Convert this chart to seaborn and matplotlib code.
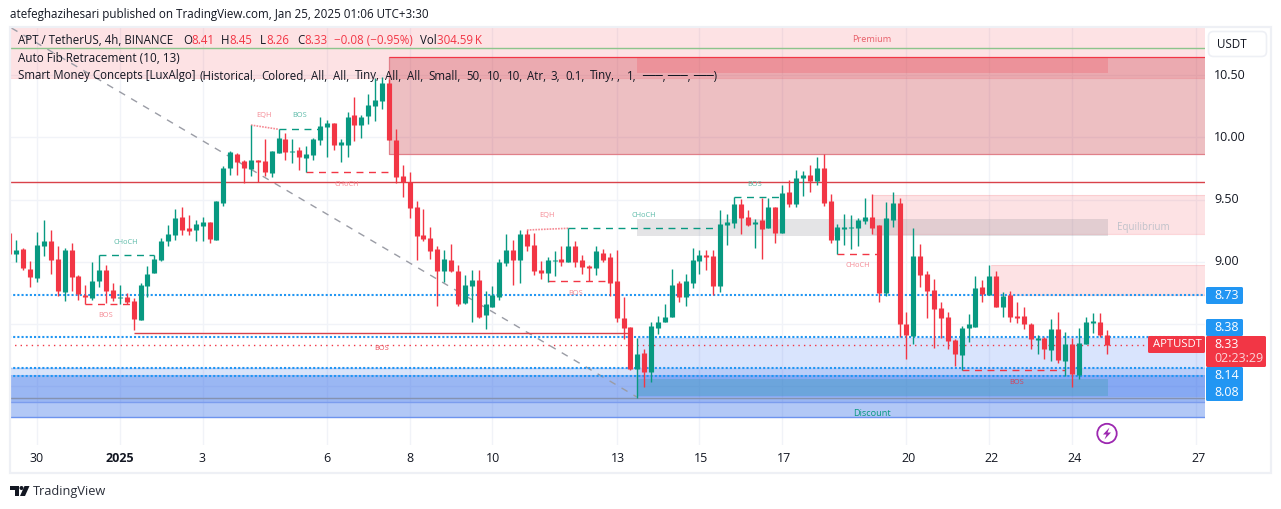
import numpy as np
import pandas as pd
import matplotlib
matplotlib.use("Agg")
import matplotlib.pyplot as plt
from matplotlib.patches import Rectangle, Circle, Polygon, FancyBboxPatch
from matplotlib.transforms import Affine2D
import seaborn as sns

# candles, 4h bars
opens = [9.235, 9.063, 9.103, 8.942, 8.870, 9.127, 9.168, 9.023, 8.757, 9.095,
         8.886, 8.733, 8.709, 8.846, 8.934, 8.774, 8.709, 8.717, 8.685, 8.532,
         8.806, 8.910, 9.015, 9.168, 9.216, 9.360, 9.272, 9.256, 9.288, 9.320,
         9.176, 9.473, 9.754, 9.867, 9.811, 9.746, 9.819, 9.811, 9.714, 9.875,
         9.987, 9.883, 9.899, 9.835, 9.859, 9.979, 10.084, 10.116, 9.939, 9.939,
         10.180, 10.100, 10.172, 10.253, 10.293, 10.438, 9.979, 9.690, 9.642, 9.441,
         9.216, 9.192, 9.103, 8.926, 9.015, 8.926, 8.669, 8.806, 8.854, 8.573,
         8.637, 8.717, 8.991, 9.095, 9.015, 9.224, 9.135, 8.934, 8.910, 9.007,
         9.023, 8.999, 9.127, 9.015, 8.967, 8.951, 9.071, 9.039, 8.846, 8.549,
         8.476, 8.139, 8.267, 8.115, 8.468, 8.516, 8.557, 8.830, 8.717, 8.830,
         9.007, 9.055, 9.047, 8.806, 9.296, 9.312, 9.465, 9.361, 9.304, 9.337,
         9.272, 9.441, 9.232, 9.562, 9.465, 9.674, 9.698, 9.650, 9.755, 9.490,
         9.176, 9.264, 9.272, 9.272, 9.329, 9.361, 9.297, 8.750, 9.337, 9.473,
         8.501, 8.404, 9.047, 8.903, 8.774, 8.629, 8.557, 8.372, 8.251, 8.468,
         8.477, 8.798, 8.734, 8.887, 8.637, 8.734, 8.565, 8.565, 8.501, 8.372,
         8.388, 8.292, 8.460, 8.203, 8.340, 8.091, 8.340, 8.509, 8.517, 8.41]
highs = [9.270, 9.176, 9.111, 9.007, 9.240, 9.336, 9.256, 9.127, 9.111, 9.151,
         8.894, 8.814, 8.999, 9.055, 8.975, 8.830, 8.814, 8.749, 8.709, 8.830,
         8.967, 9.055, 9.192, 9.296, 9.425, 9.441, 9.377, 9.336, 9.360, 9.320,
         9.489, 9.770, 9.891, 9.875, 9.819, 10.100, 9.819, 9.987, 9.891, 10.068,
         10.036, 9.987, 9.923, 9.931, 9.995, 10.164, 10.140, 10.116, 9.987, 10.204,
         10.325, 10.180, 10.349, 10.478, 10.486, 10.470, 10.068, 9.778, 9.722, 9.489,
         9.425, 9.280, 9.127, 9.095, 9.143, 8.975, 8.894, 8.934, 8.934, 8.766,
         8.806, 9.023, 9.224, 9.176, 9.256, 9.256, 9.232, 9.007, 9.039, 9.087,
         9.127, 9.272, 9.168, 9.055, 8.975, 9.127, 9.103, 9.071, 9.095, 8.718,
         8.476, 8.385, 8.299, 8.516, 8.565, 8.661, 8.942, 8.846, 8.902, 9.111,
         9.095, 9.095, 9.095, 9.417, 9.385, 9.521, 9.505, 9.417, 9.345, 9.513,
         9.513, 9.441, 9.618, 9.658, 9.738, 9.730, 9.779, 9.843, 9.867, 9.546,
         9.305, 9.385, 9.377, 9.353, 9.514, 9.546, 9.297, 9.482, 9.562, 9.514,
         8.597, 9.272, 9.144, 8.927, 8.862, 8.678, 8.597, 8.380, 8.484, 8.581,
         8.887, 8.854, 8.975, 8.927, 8.758, 8.766, 8.678, 8.637, 8.509, 8.412,
         8.396, 8.541, 8.597, 8.436, 8.388, 8.468, 8.557, 8.589, 8.589, 8.45]
lows = [9.040, 8.999, 8.934, 8.798, 8.838, 9.047, 8.902, 8.725, 8.685, 8.766,
        8.693, 8.661, 8.693, 8.798, 8.669, 8.685, 8.661, 8.661, 8.452, 8.532,
        8.717, 8.910, 9.007, 9.127, 9.176, 9.216, 9.216, 9.168, 9.168, 9.151,
        9.176, 9.449, 9.698, 9.698, 9.634, 9.690, 9.644, 9.690, 9.682, 9.875,
        9.819, 9.794, 9.738, 9.722, 9.819, 9.939, 9.843, 9.899, 9.803, 9.843,
        9.971, 9.995, 10.108, 10.132, 10.229, 9.979, 9.634, 9.521, 9.352, 9.015,
        9.167, 9.023, 8.645, 8.838, 8.918, 8.645, 8.661, 8.517, 8.549, 8.460,
        8.637, 8.693, 8.967, 8.814, 8.830, 9.087, 8.894, 8.862, 8.838, 8.886,
        8.967, 8.999, 8.959, 8.902, 8.846, 8.894, 8.999, 8.725, 8.517, 8.380,
        8.131, 7.905, 7.994, 8.034, 8.420, 8.516, 8.557, 8.677, 8.645, 8.790,
        8.902, 8.934, 8.733, 8.758, 9.135, 9.272, 9.224, 9.288, 9.111, 9.023,
        9.272, 9.152, 9.232, 9.441, 9.441, 9.530, 9.562, 9.618, 9.449, 9.152,
        9.063, 9.136, 9.104, 9.128, 9.305, 9.224, 8.678, 8.726, 9.281, 8.396,
        8.219, 8.340, 8.798, 8.549, 8.308, 8.388, 8.300, 8.163, 8.131, 8.356,
        8.477, 8.678, 8.734, 8.637, 8.557, 8.517, 8.509, 8.460, 8.300, 8.259,
        8.219, 8.203, 8.187, 8.083, 7.994, 8.058, 8.340, 8.428, 8.396, 8.26]
closes = [9.063, 9.095, 8.950, 8.878, 9.135, 9.168, 9.015, 8.766, 9.095, 8.878,
          8.741, 8.717, 8.846, 8.934, 8.766, 8.709, 8.717, 8.677, 8.540, 8.814,
          8.902, 9.023, 9.168, 9.224, 9.352, 9.256, 9.248, 9.304, 9.320, 9.184,
          9.489, 9.754, 9.883, 9.802, 9.754, 9.819, 9.802, 9.722, 9.891, 9.995,
          9.883, 9.891, 9.843, 9.867, 9.987, 10.092, 10.116, 9.939, 9.963, 10.164,
          10.100, 10.164, 10.261, 10.301, 10.438, 9.979, 9.682, 9.642, 9.433, 9.208,
          9.183, 9.087, 8.926, 9.023, 8.926, 8.661, 8.814, 8.854, 8.557, 8.661,
          8.733, 9.000, 9.095, 9.015, 9.224, 9.127, 8.926, 8.910, 9.015, 9.015,
          8.999, 9.127, 8.999, 8.959, 8.951, 9.087, 9.015, 8.830, 8.549, 8.468,
          8.139, 8.259, 8.115, 8.484, 8.516, 8.557, 8.814, 8.717, 8.846, 9.015,
          9.055, 9.039, 8.806, 9.304, 9.320, 9.465, 9.353, 9.296, 9.320, 9.264,
          9.441, 9.232, 9.554, 9.465, 9.674, 9.698, 9.650, 9.755, 9.473, 9.176,
          9.281, 9.281, 9.281, 9.337, 9.361, 9.272, 8.750, 9.353, 9.473, 8.501,
          8.412, 9.047, 8.895, 8.766, 8.621, 8.549, 8.364, 8.259, 8.468, 8.501,
          8.790, 8.742, 8.887, 8.637, 8.726, 8.557, 8.549, 8.501, 8.380, 8.388,
          8.300, 8.460, 8.211, 8.340, 8.099, 8.348, 8.517, 8.525, 8.412, 8.33]

# structure lines (first bar, last bar, first price, last price)
green_dash = [(13, 21, 9.053, 9.053), (39, 45, 10.066, 10.066), (81, 103, 9.270, 9.270), (105, 112, 9.519, 9.519)]
red_dash = [(11, 18, 8.659, 8.659), (43, 55, 9.720, 9.720), (78, 87, 8.844, 8.844), (120, 126, 9.061, 9.061), (138, 153, 8.129, 8.129)]
eqh_lines = [(35, 39, 10.100, 10.066), (75, 81, 9.256, 9.270)]
green_tags = [(16.9, 9.152, "CHoCH"), (42, 10.173, "BOS"), (92, 9.373, "CHoCH"), (108, 9.626, "BOS")]
red_tags = [(14, 8.565, "BOS"), (36.9, 10.173, "EQH"), (48.9, 9.626, "CHoCH"), (77.9, 9.373, "EQH"),
            (82, 8.746, "BOS"), (122.9, 8.971, "CHoCH")]

# zones (first bar, last bar, low, high)
pink_zones = [(0, 174, 10.478, 10.90), (125, 174, 9.227, 9.54), (142.3, 174, 8.734, 8.975)]

blue_levels = [8.73, 8.395, 8.15, 8.085]
price_ticks = [8.0, 8.5, 9.0, 9.5, 10.0, 10.5]
price_labels = ["", "", "9.00", "9.50", "10.00", "10.50"]
day_bars = [4, 16, 28, 46, 58, 70, 88, 100, 112, 130, 142, 154, 172]
day_labels = ["30", "2025", "3", "6", "8", "10", "13", "15", "17", "20", "22", "24", "27"]

# legend row pieces: text start in pixels, text
ohlc_row = [(183, "O", 0), (191, "8.41", 1), (221, "H", 0), (229, "8.45", 1), (260, "L", 0), (266, "8.26", 1),
            (297, "C", 0), (304, "8.33", 1), (334, "\u22120.08 (\u22120.95%)", 1), (420, "Vol", 0), (437, "304.59\u2009K", 1)]
smc_row = [(18, "Smart Money Concepts [LuxAlgo]"), (199, "(Historical,"), (261, "Colored,"), (311, "All,"), (333, "All,"),
           (355, "Tiny,"), (385, "All,"), (407, "All,"), (428, "Small,"), (466, "50,"), (487, "10,"), (507, "10,"),
           (527, "Atr,"), (550, "3,"), (565, "0.1,"), (590, "Tiny,"), (617, ","), (627, "1,"),
           (642, "\u2500\u2500\u2500,"), (667, "\u2500\u2500\u2500,"), (693, "\u2500\u2500\u2500)")]

GREEN = "#089981"
RED = "#F23645"
BLUE = "#2196F3"
TXT = "#131722"
FONT = "Open Sans"

sns.set_theme(style="white")
plt.rcParams["font.family"] = [FONT, "DejaVu Sans"]

W, H = 1281, 509
fig = plt.figure(figsize=(W / 100, H / 100), dpi=100)
fig.patch.set_facecolor("white")
ax = fig.add_axes([11 / W, 1 - 445 / H, (1205 - 11) / W, (445 - 28) / H])
px = Affine2D().scale(1, -1).translate(0, H)  # screen pixels, y going down

bars = np.arange(len(opens))
df = pd.DataFrame({"bar": bars, "open": opens, "high": highs, "low": lows, "close": closes})
df["dir"] = np.where(df.close >= df.open, "up", "down")
pal = {"up": GREEN, "down": RED}

wicks = df.melt(id_vars=["bar", "dir"], value_vars=["low", "high"], value_name="price")
bodies = df.melt(id_vars=["bar", "dir"], value_vars=["open", "close"], value_name="price")

# zones first, then lines, candles on top
for b0, b1, lo, hi in pink_zones:
    ax.add_patch(Rectangle((b0, lo), b1 - b0, hi - lo, fc=RED, alpha=0.14, ec="none", zorder=1))
    ax.hlines(lo, b0, b1, color=RED, alpha=0.2, lw=0.8, zorder=1)
    ax.hlines(hi, b0, b1, color=RED, alpha=0.12, lw=0.8, zorder=1)
ax.add_patch(Rectangle((0, 7.874), 174, 0.271, fc="#2F6AE8", alpha=0.18, ec="none", zorder=1))
ax.add_patch(Rectangle((0, 7.755), 174, 0.335, fc="#2F6AE8", alpha=0.37, ec="none", zorder=1))
ax.add_patch(Rectangle((90.9, 7.915), 84, 0.473, fc="#2F6AF5", alpha=0.18, ec="none", zorder=1))
ax.hlines(7.755, 0, 174, color="#6D93EE", lw=1, zorder=1.5)
ax.hlines(7.874, 0, 174, color="#7C9DEE", lw=1, zorder=1.5)
ax.hlines(7.905, 0, 174, color="#8592B0", lw=1, zorder=1.5)
ax.hlines(8.145, 0, 174, color="#B4CBF9", lw=1, zorder=1.5)
ax.hlines(8.388, 90.9, 174, color="#CBDBFB", lw=1, zorder=1.5)

# big supply box and the smaller boxes inside the range
ax.add_patch(Rectangle((55.06, 9.865), 120, 0.785, fc="#C42B38", alpha=0.3, ec="none", zorder=1.2))
ax.plot([55.06, 55.06, 174], [10.65, 9.865, 9.865], color="#E0808A", lw=0.9, zorder=1.4)
ax.hlines(10.65, 55.06, 174, color=RED, lw=0.9, zorder=1.4)
ax.add_patch(Rectangle((90.9, 10.52), 68.3, 0.13, fc=RED, alpha=0.2, ec="none", zorder=1.3))
ax.add_patch(Rectangle((90.9, 9.208), 68.3, 0.137, fc="#787B86", alpha=0.2, ec="none", zorder=1.3))
ax.add_patch(Rectangle((90.9, 7.92), 68.3, 0.137, fc=GREEN, alpha=0.2, ec="none", zorder=1.3))

ax.plot([0.3, 90.9], [10.88, 7.915], color="#9A9CA5", lw=1, ls=(0, (5, 5)), zorder=2)
ax.hlines(9.645, 0, 174, color="#D9424A", lw=1, zorder=2)
ax.hlines(8.426, 18, 90, color="#D9424A", lw=1, zorder=2)
ax.hlines(8.33, 0, 174, color=RED, lw=1, ls=(0, (1, 3)), zorder=2)
for lv in blue_levels:
    ax.plot([0, 174], [lv, lv], color=BLUE, lw=1.5, ls=(0, (1, 1)), dash_capstyle="butt", zorder=2)
ax.hlines(10.723, 0, 174, color="#8CC48C", lw=1, zorder=2)

for b0, b1, p0, p1 in green_dash:
    ax.plot([b0, b1], [p0, p1], color=GREEN, lw=1, ls=(0, (5, 4)), zorder=2.5)
for b0, b1, p0, p1 in red_dash:
    ax.plot([b0, b1], [p0, p1], color=RED, lw=1, ls=(0, (5, 4)), zorder=2.5)
for b0, b1, p0, p1 in eqh_lines:
    ax.plot([b0, b1], [p0, p1], color="#F58A94", lw=1.2, ls=(0, (1, 0.7)), zorder=2.5)

sns.lineplot(data=wicks, x="bar", y="price", units="bar", hue="dir", palette=pal, estimator=None,
             sort=False, lw=1, legend=False, ax=ax, zorder=3, solid_capstyle="butt")
sns.lineplot(data=bodies, x="bar", y="price", units="bar", hue="dir", palette=pal, estimator=None,
             sort=False, lw=3.7, legend=False, ax=ax, zorder=3.1, solid_capstyle="butt")

for b, p, s in green_tags:
    ax.text(b, p, s, color="#5DBBA9", fontsize=5.3, ha="center", va="center", zorder=4)
for b, p, s in red_tags:
    ax.text(b, p, s, color="#F58A94", fontsize=5.3, ha="center", va="center", zorder=4)
ax.text(54, 8.30, "BOS", color="#E8505C", fontsize=5.3, ha="center", va="center", zorder=4)
ax.text(146, 8.029, "BOS", color="#D6405A", fontsize=5.3, ha="center", va="center", zorder=4)
ax.text(125, 10.784, "Premium", color="#E8606A", fontsize=6.6, ha="center", va="center", zorder=4)
ax.text(125, 7.785, "Discount", color=GREEN, fontsize=6.6, ha="center", va="center", zorder=4)
ax.text(164.4, 9.28, "Equilibrium", color="#BFC2CA", fontsize=7, ha="center", va="center", zorder=4)

ax.set_xlim(0.232, 173.27)
ax.set_ylim(7.528, 10.88)
ax.set_xlabel("")
ax.set_ylabel("")
ax.set_xticks(day_bars)
ax.set_xticklabels([])
ax.set_yticks(price_ticks)
ax.set_yticklabels([])
ax.tick_params(length=0)
ax.grid(True, color="#F1F3F8", lw=1)
ax.set_axisbelow(True)
sns.despine(ax=ax, left=True, bottom=True, right=True, top=True)


def box(x0, y0, x1, y1, color):
    fig.add_artist(FancyBboxPatch((x0 + 1, y0 + 1), x1 - x0 - 2, y1 - y0 - 2, boxstyle="round,pad=1,rounding_size=1.5",
                                  transform=px, fc=color, ec="none", zorder=5))


def label(x, y, s, color="white", size=9, ha="left", **kw):
    fig.text(x, y, s, transform=px, fontsize=size, color=color, ha=ha, va="center", zorder=9, **kw)


# day labels, price labels
for b, s in zip(day_bars, day_labels):
    label(36.3 + (b - 4) * 6.92, 459, s, color=TXT, ha="center", fontweight="bold" if s == "2025" else "normal")
for p, s in zip(price_ticks, price_labels):
    if s:
        label(1214, 137.5 + (10 - p) * 124.4, s, color=TXT)

box(1206, 287, 1243, 304, BLUE)
label(1214, 295.5, "8.73")
box(1206, 319, 1243, 336, BLUE)
label(1214, 327.5, "8.38")
box(1206, 367, 1243, 401, BLUE)
label(1214, 375.5, "8.14")
label(1214, 393, "8.08")
box(1148, 336, 1205, 353, RED)
label(1153, 344.5, "APTUSDT", size=8.1)
box(1206, 336, 1266, 367, RED)
label(1214, 344.5, "8.33")
label(1214, 358.5, "02:23:29", color="#FBD5D9")

# outer frame and scale button
fig.add_artist(Rectangle((10, 27), 1261, 446, transform=px, fc="none", ec="#EEF0F5", lw=1.6, zorder=7))
fig.add_artist(FancyBboxPatch((1212, 35), 51, 18, boxstyle="round,pad=3.5,rounding_size=5", transform=px,
                              fc="white", ec="#EEF0F5", lw=1.2, zorder=7))
label(1232, 44, "USDT", color=TXT, size=8.4, ha="center")

# top line and legend rows
label(10, 14.5, "atefeghazihesari published on TradingView.com, Jan 25, 2025 01:06 UTC+3:30", color=TXT, size=8.4)
label(18, 41, "APT / TetherUS, 4h, BINANCE", color=TXT, size=8.3)
for x, s, is_red in ohlc_row:
    label(x, 41, s, color=RED if is_red else TXT, size=8.3)
label(18, 59, "Auto Fib Retracement (10, 13)", color=TXT, size=8.5)
for x, s in smc_row:
    label(x, 76, s, color=TXT, size=8.3)

# lightning badge
fig.add_artist(Circle((1107, 433.5), 9.7, transform=px, fc="white", ec="#9C27B0", lw=1.3, zorder=7))
fig.add_artist(Polygon([(1109.5, 427.5), (1103, 434.5), (1106.5, 434.5), (1104.5, 439.5), (1111, 432.5), (1107.5, 432.5)],
                       closed=True, transform=px, fc="#9C27B0", ec="none", zorder=8))

# TradingView mark
for pts in ([(10, 486), (19, 486), (19, 496), (14.5, 496), (14.5, 490), (10, 490)],
            [(29.5, 486), (25, 496), (20, 496), (24.5, 486)]):
    fig.add_artist(Polygon(pts, closed=True, transform=px, fc=TXT, ec="none", zorder=8))
fig.add_artist(Circle((21.5, 488), 2, transform=px, fc=TXT, ec="none", zorder=8))
label(33, 491, "TradingView", color="#2A2E39", size=9.2)

fig.savefig("out.png", dpi=100)
